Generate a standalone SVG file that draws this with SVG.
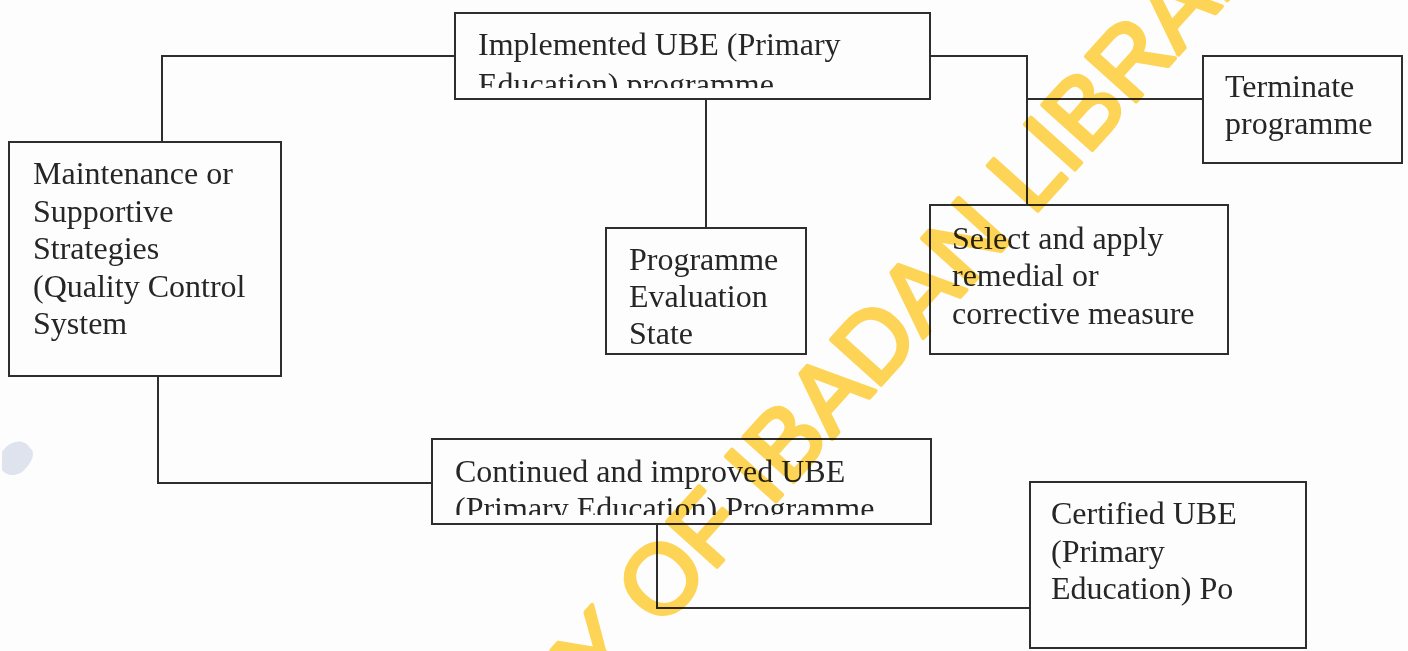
<svg xmlns="http://www.w3.org/2000/svg" width="1408" height="651" viewBox="0 0 1408 651">
<style>
.box{fill:none;stroke:#2e2e2e;stroke-width:2}
.ln{fill:none;stroke:#2e2e2e;stroke-width:2}
.t{font-family:"Liberation Serif","Times New Roman",serif;font-size:32px;fill:#262626}
.wm{font-family:"Liberation Sans",Arial,sans-serif;font-size:98px;fill:#FFD655;stroke:#FFD655;stroke-width:4;stroke-linejoin:round;mix-blend-mode:multiply}
</style>
<defs>
<clipPath id="c1"><rect x="456" y="14" width="473" height="74"/></clipPath>
<clipPath id="c2"><rect x="433" y="440" width="497" height="75"/></clipPath>
</defs>
<rect width="1408" height="651" fill="#fdfdfd"/>
<path d="M2,452 C10,440 24,438 30,448 C36,452 32,462 26,468 C20,476 8,478 2,470 Z" fill="#c9d2e4" opacity="0.6"/>
<g id="connectors">
<polyline class="ln" points="162,142 162,56 455,56"/>
<polyline class="ln" points="930,56 1027,56 1027,205"/>
<line class="ln" x1="1027" y1="99" x2="1203" y2="99"/>
<line class="ln" x1="706" y1="99" x2="706" y2="228"/>
<polyline class="ln" points="158,376 158,483 432,483"/>
<polyline class="ln" points="657,524 657,608 1030,608"/>
</g>
<g id="implemented">
<rect class="box" x="455" y="13" width="475" height="86"/>
<g clip-path="url(#c1)">
<text class="t" x="478" y="55">Implemented UBE (Primary</text>
<text class="t" x="478" y="95">Education) programme</text>
</g>
</g>
<g id="maintenance">
<rect class="box" x="9" y="142" width="272" height="234"/>
<text class="t" x="33" y="184">Maintenance or</text>
<text class="t" x="33" y="222">Supportive</text>
<text class="t" x="33" y="259">Strategies</text>
<text class="t" x="33" y="297">(Quality Control</text>
<text class="t" x="33" y="334">System</text>
</g>
<g id="evaluation">
<rect class="box" x="606" y="228" width="200" height="126"/>
<text class="t" x="629" y="270">Programme</text>
<text class="t" x="629" y="307">Evaluation</text>
<text class="t" x="629" y="344">State</text>
</g>
<g id="terminate">
<rect class="box" x="1203" y="56" width="199" height="107"/>
<text class="t" x="1225" y="97">Terminate</text>
<text class="t" x="1225" y="134">programme</text>
</g>
<g id="select">
<rect class="box" x="930" y="205" width="298" height="149"/>
<text class="t" x="952" y="249">Select and apply</text>
<text class="t" x="952" y="286">remedial or</text>
<text class="t" x="952" y="324">corrective measure</text>
</g>
<g id="continued">
<rect class="box" x="432" y="439" width="499" height="85"/>
<g clip-path="url(#c2)">
<text class="t" x="455" y="482">Continued and improved UBE</text>
<text class="t" x="455" y="519">(Primary Education) Programme</text>
</g>
</g>
<g id="certified">
<rect class="box" x="1030" y="482" width="276" height="166"/>
<text class="t" x="1051" y="524">Certified UBE</text>
<text class="t" x="1051" y="562">(Primary</text>
<text class="t" x="1051" y="599">Education) Po</text>
</g>
<text class="wm" transform="translate(600,697) rotate(-48)">Y OF IBADAN LIBRARY</text>
</svg>
